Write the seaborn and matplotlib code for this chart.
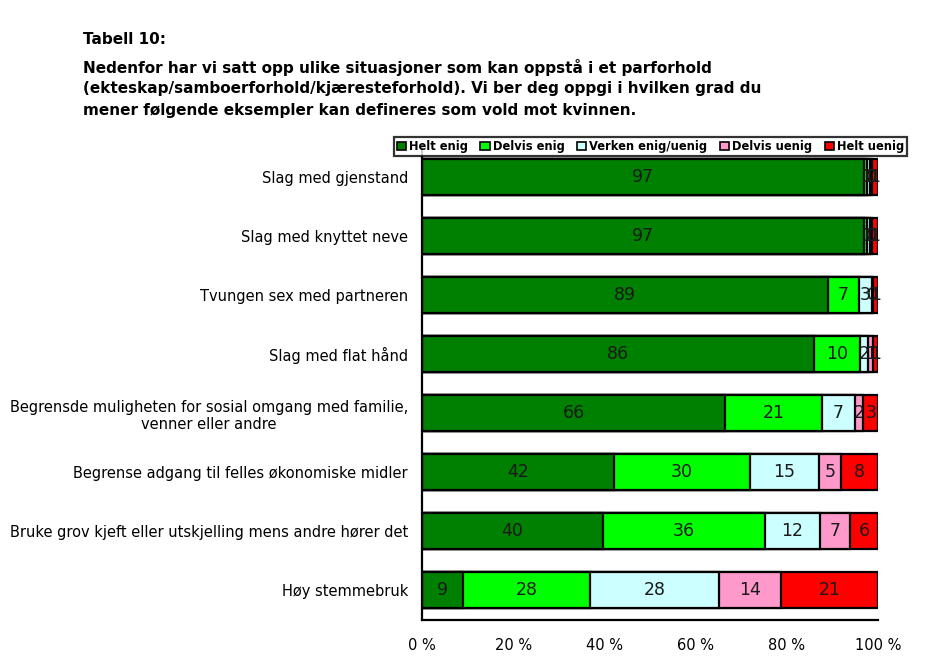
import numpy as np
import pandas as pd
import matplotlib
matplotlib.use("Agg")
import matplotlib.pyplot as plt
from matplotlib.patches import Patch
import seaborn as sns

# ---- data ----
categories = [
    "Slag med gjenstand",
    "Slag med knyttet neve",
    "Tvungen sex med partneren",
    "Slag med flat hånd",
    "Begrensde muligheten for sosial omgang med familie,\nvenner eller andre",
    "Begrense adgang til felles økonomiske midler",
    "Bruke grov kjeft eller utskjelling mens andre hører det",
    "Høy stemmebruk",
]
series_names = ["Helt enig", "Delvis enig", "Verken enig/uenig", "Delvis uenig", "Helt uenig"]
helt_enig = [96.9, 96.9, 89.0, 85.9, 66.4, 42.0, 39.6, 9.0]
delvis_enig = [0.7, 0.7, 6.8, 10.1, 21.3, 29.9, 35.6, 27.9]
verken = [0.7, 0.7, 2.9, 1.8, 7.3, 15.1, 12.1, 28.2]
delvis_uenig = [0.4, 0.4, 0.3, 1.1, 1.8, 4.9, 6.6, 13.6]
helt_uenig = [1.3, 1.3, 1.0, 1.1, 3.2, 8.1, 6.2, 21.3]
xticks = [0, 20, 40, 60, 80, 100]
xtick_labels = ["0 %", "20 %", "40 %", "60 %", "80 %", "100 %"]
colors = ["#008000", "#00FF00", "#CCFFFF", "#FF99CC", "#FF0000"]

title_lines = [
    "Tabell 10:",
    "Nedenfor har vi satt opp ulike situasjoner som kan oppstå i et parforhold",
    "(ekteskap/samboerforhold/kjæresteforhold). Vi ber deg oppgi i hvilken grad du",
    "mener følgende eksempler kan defineres som vold mot kvinnen.",
]

sns.set_theme(style="white")
plt.rcParams["font.family"] = ["DejaVu Sans"]
for k in ["text.color", "axes.labelcolor", "xtick.color", "ytick.color"]:
    plt.rcParams[k] = "black"

series = [helt_enig, delvis_enig, verken, delvis_uenig, helt_uenig]
df = pd.DataFrame({"Kategori": categories})
for name, vals in zip(series_names, series):
    df[name] = vals
cum = df[series_names].cumsum(axis=1)

fig = plt.figure(figsize=(9.36, 6.58), dpi=100)
ax = fig.add_axes([422 / 936, 1 - 620 / 658, 456 / 936, 473 / 658])

# stacked bars: draw cumulative totals from the last series backwards
for i in range(len(series_names) - 1, -1, -1):
    plot_df = pd.DataFrame({"Kategori": categories, "val": cum[series_names[i]].values})
    sns.barplot(data=plot_df, y="Kategori", x="val", orient="h", color=colors[i],
                saturation=1, width=0.61, edgecolor="black", linewidth=1.6, ax=ax,
                order=categories)

# value labels at segment centres
for i, name in enumerate(series_names):
    vals = df[name].values
    starts = cum[name].values - vals
    for j, v in enumerate(vals):
        ax.text(starts[j] + v / 2, j, f"{v:.0f}", ha="center", va="center",
                fontsize=12.5, color="#1a1a1a")

ax.set_xlim(0, 100)
ax.set_ylim(len(categories) - 0.5, -0.5)
ax.set_xticks(xticks)
ax.set_xticklabels(xtick_labels, fontsize=10.5)
ax.set_xlabel("")
ax.set_ylabel("")
ax.tick_params(axis="x", direction="out", length=5, width=1.5, color="black", pad=8)
ax.tick_params(axis="y", length=0, pad=10, labelsize=10.5)
for lbl in ax.get_yticklabels():
    lbl.set_multialignment("center")
sns.despine(ax=ax, top=True, right=True)
for s in ["left", "bottom"]:
    ax.spines[s].set_color("black")
    ax.spines[s].set_linewidth(1.6)

# legend
handles = [Patch(facecolor=c, edgecolor="black", linewidth=1.2, label=n)
           for c, n in zip(colors, series_names)]
leg = fig.legend(handles=handles, loc="center", ncol=5,
                 bbox_to_anchor=((395 + 906) / 2 / 936, 1 - 146.5 / 658),
                 frameon=True, fancybox=False, edgecolor="black",
                 prop={"weight": "bold", "size": 8.3},
                 handlelength=0.8, handleheight=0.8, handletextpad=0.25,
                 columnspacing=1.1, borderpad=0.25, borderaxespad=0)
leg.get_frame().set_linewidth(1.6)
leg.get_frame().set_edgecolor("black")

# title
ys = [40, 67, 88, 110]
for t, y in zip(title_lines, ys):
    fig.text(83 / 936, 1 - y / 658, t, ha="left", va="center",
             fontsize=11.0, fontweight="bold")

fig.savefig("out.png", dpi=100)
